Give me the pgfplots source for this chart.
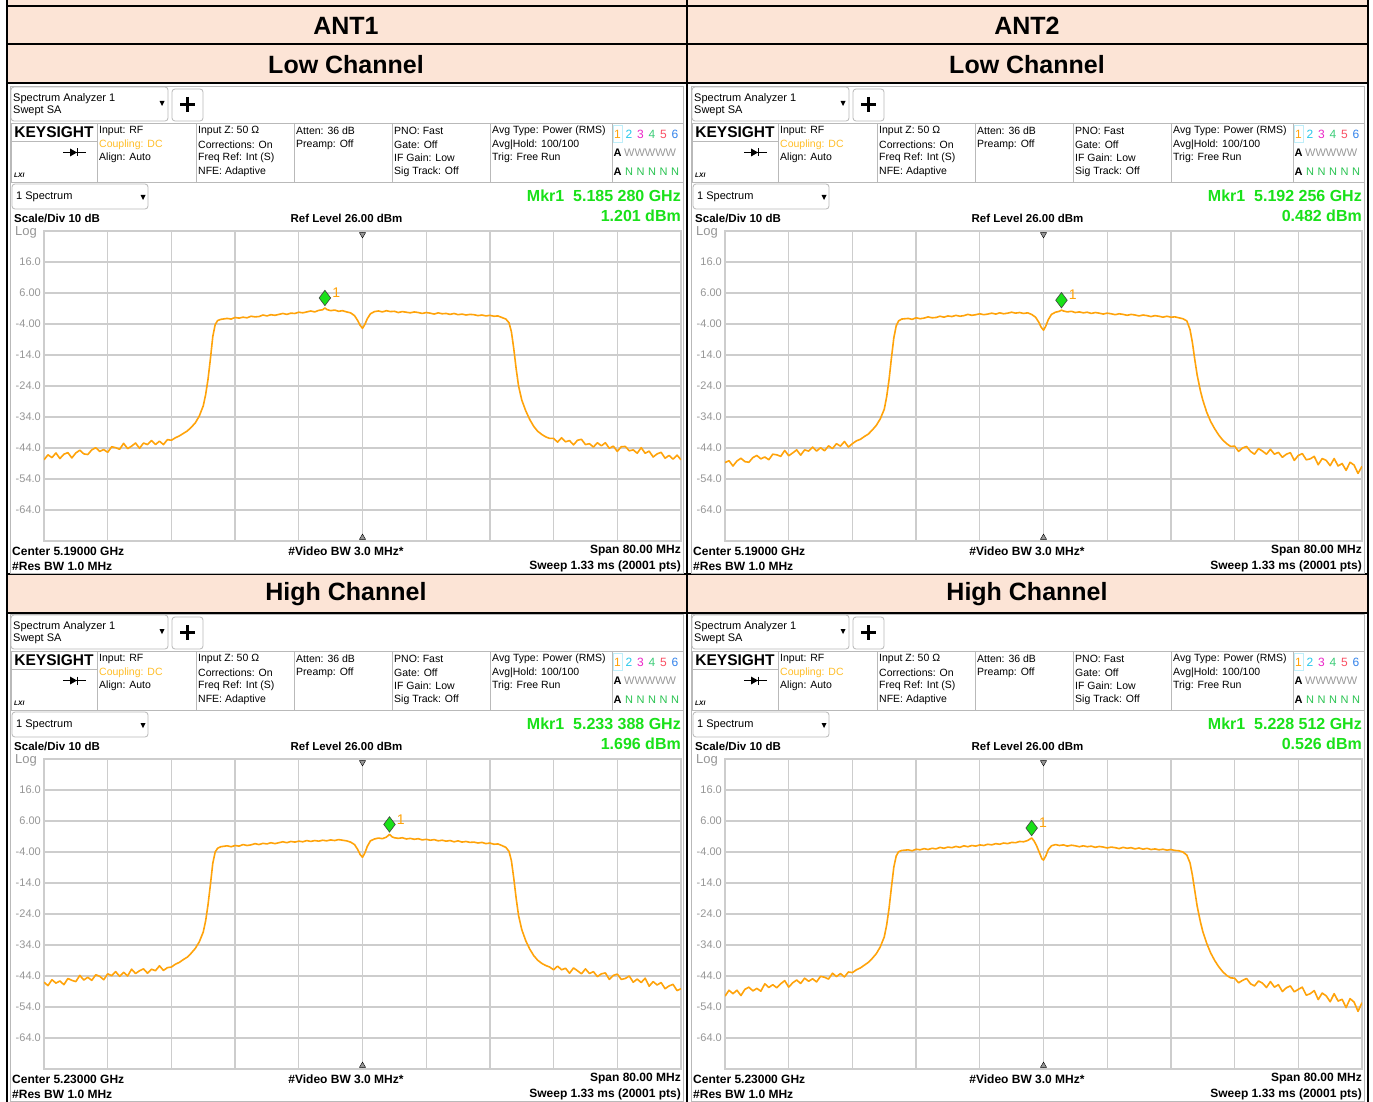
\documentclass[border=0pt]{standalone}
\usepackage{fontspec}
\setmainfont{Liberation Sans}
\usepackage{pgfplots}
\usepackage{pgfplotstable}
\pgfplotsset{compat=1.18}
\definecolor{peach}{RGB}{252,228,214}
\definecolor{gridc}{RGB}{205,205,205}
\definecolor{framec}{RGB}{185,185,185}
\definecolor{tickc}{RGB}{150,150,150}
\definecolor{traceor}{RGB}{255,163,10}
\definecolor{mkrg}{RGB}{25,225,25}
\definecolor{coupl}{RGB}{255,190,40}
\definecolor{tr2}{RGB}{40,200,235}
\definecolor{tr3}{RGB}{235,40,200}
\definecolor{tr4}{RGB}{60,205,120}
\definecolor{tr5}{RGB}{250,80,100}
\definecolor{tr6}{RGB}{50,130,235}
\definecolor{ngreen}{RGB}{40,195,80}
\newcommand{\fs}[1]{\fontsize{#1}{#1}\selectfont}

\pgfplotstableread{
x y
-40 -47.8
-39.5 -46.2
-39 -47.1
-38.5 -45.6
-38 -47.4
-37.5 -46.0
-37 -45.5
-36.5 -47.2
-36 -45.6
-35.5 -44.7
-35 -45.9
-34.5 -46.1
-34 -44.6
-33.5 -43.9
-33 -45.1
-32.5 -44.5
-32 -45.4
-31.5 -43.6
-31 -43.9
-30.5 -44.4
-30 -42.5
-29.5 -44.2
-29 -43.4
-28.5 -42.4
-28 -44.1
-27.5 -42.4
-27 -42.9
-26.5 -41.6
-26 -42.9
-25.5 -41.8
-25 -42.9
-24.5 -41.3
-24 -41.5
-23.5 -40.7
-23 -40.1
-22.5 -39.3
-22 -38.5
-21.5 -37.3
-21 -35.9
-20.5 -33.7
-20 -30.4
-19.7 -26.8
-19.4 -21.8
-19.1 -15.2
-18.8 -8.0
-18.5 -4.2
-18.2 -2.9
-17.8 -2.5
-17.0 -2.2
-16.5 -2.4
-16.0 -1.9
-15.5 -2.1
-15.0 -1.8
-14.5 -2.0
-14.0 -1.5
-13.5 -1.7
-13.0 -1.6
-12.5 -1.1
-12.0 -1.4
-11.5 -1.0
-11.0 -1.2
-10.5 -0.9
-10.0 -0.6
-9.5 -0.9
-9.0 -0.5
-8.5 -0.6
-8.0 -0.2
-7.5 -0.4
-7.0 -0.1
-6.5 0.2
-6.0 -0.1
-5.5 0.4
-5.0 0.6
-4.72 1.2
-4.5 0.7
-4.0 0.3
-3.5 0.5
-3.0 0.1
-2.5 0.3
-2.0 -0.1
-1.5 -0.4
-1.0 -1.3
-0.6 -2.9
-0.3 -4.4
0.0 -5.4
0.3 -4.1
0.6 -2.3
1.0 -0.7
1.5 0.0
2.0 0.2
2.5 -0.1
3.0 0.3
3.5 0.0
4.0 0.1
4.5 -0.3
5.0 0.0
5.5 -0.2
6.0 -0.4
6.5 -0.1
7.0 -0.3
7.5 -0.6
8.0 -0.3
8.5 -0.5
9.0 -0.8
9.5 -0.4
10.0 -0.7
10.5 -0.6
11.0 -0.9
11.5 -0.6
12.0 -1.0
12.5 -0.8
13.0 -1.1
13.5 -0.9
14.0 -1.0
14.5 -1.3
15.0 -1.1
15.5 -1.4
16.0 -1.2
16.5 -1.5
17.0 -1.4
17.5 -1.9
18.0 -2.4
18.4 -3.6
18.7 -6.5
19.0 -12.0
19.3 -18.5
19.6 -24.0
20.0 -28.5
20.5 -32.0
21.0 -34.8
21.5 -37.0
22.0 -38.6
22.5 -39.6
23.0 -40.4
23.5 -40.9
24 -40.9
24.5 -42.1
25 -40.7
25.5 -42.0
26 -41.6
26.5 -43.0
27 -41.5
27.5 -41.2
28 -42.9
28.5 -42.6
29 -43.7
29.5 -42.3
30 -43.3
30.5 -42.3
31 -44.1
31.5 -43.4
32 -45.1
32.5 -43.6
33 -43.5
33.5 -44.9
34 -44.6
34.5 -45.7
35 -43.9
35.5 -45.7
36 -45.0
36.5 -46.9
37 -45.9
37.5 -45.4
38 -47.3
38.5 -46.4
39 -47.6
39.5 -46.3
40 -47.8
}\tA

\pgfplotstableread{
x y
-40 -48.7
-39.5 -48.1
-39 -49.8
-38.5 -48.2
-38 -47.3
-37.5 -48.4
-37 -48.6
-36.5 -47.1
-36 -46.4
-35.5 -47.5
-35 -46.9
-34.5 -47.8
-34 -46.0
-33.5 -46.2
-33 -46.7
-32.5 -44.8
-32 -46.5
-31.5 -45.6
-31 -44.6
-30.5 -46.3
-30 -44.6
-29.5 -45.0
-29 -43.7
-28.5 -45.0
-28 -43.9
-27.5 -44.9
-27 -43.3
-26.5 -44.2
-26 -42.6
-25.5 -43.4
-25 -41.9
-24.5 -43.7
-24 -42.6
-23.5 -41.7
-23 -41.2
-22.5 -40.3
-22 -39.5
-21.5 -38.2
-21 -36.7
-20.5 -34.6
-20 -31.5
-19.7 -27.5
-19.4 -22.0
-19.1 -15.0
-18.8 -8.5
-18.5 -4.6
-18.2 -3.0
-17.8 -2.4
-17.0 -2.2
-16.5 -2.5
-16.0 -2.0
-15.5 -2.3
-15.0 -2.1
-14.5 -1.7
-14.0 -2.0
-13.5 -1.9
-13.0 -1.5
-12.5 -1.8
-12.0 -1.4
-11.5 -1.6
-11.0 -1.2
-10.5 -1.5
-10.0 -1.3
-9.5 -0.9
-9.0 -1.2
-8.5 -1.0
-8.0 -0.7
-7.5 -1.0
-7.0 -0.8
-6.5 -0.5
-6.0 -0.8
-5.5 -0.4
-5.0 -0.7
-4.5 -0.5
-4.0 -0.2
-3.5 -0.5
-3.0 -0.3
-2.5 -0.6
-2.0 -0.4
-1.5 -0.9
-1.0 -1.8
-0.6 -3.4
-0.3 -5.0
0.0 -6.0
0.3 -4.6
0.6 -2.6
1.0 -0.9
1.5 -0.2
2.0 0.1
2.256 0.48
2.5 0.2
3.0 -0.1
3.5 0.1
4.0 -0.3
4.5 -0.1
5.0 -0.4
5.5 -0.2
6.0 -0.6
6.5 -0.3
7.0 -0.5
7.5 -0.8
8.0 -0.5
8.5 -0.7
9.0 -1.0
9.5 -0.7
10.0 -0.9
10.5 -1.2
11.0 -0.9
11.5 -1.1
12.0 -1.4
12.5 -1.1
13.0 -1.3
13.5 -1.6
14.0 -1.3
14.5 -1.5
15.0 -1.8
15.5 -1.5
16.0 -1.8
16.5 -1.7
17.0 -2.0
17.5 -2.3
18.0 -3.0
18.4 -5.8
18.7 -10.0
19.0 -15.5
19.3 -20.5
19.7 -25.5
20.0 -28.5
20.5 -32.5
21.0 -35.5
21.5 -37.8
22.0 -39.8
22.5 -41.4
23.0 -42.6
23.5 -43.5
24 -43.4
24.5 -45.1
25 -44.0
25.5 -43.5
26 -45.1
26.5 -46.0
27 -44.2
27.5 -45.0
28 -46.0
28.5 -44.4
29 -46.0
29.5 -45.4
30 -47.0
30.5 -46.0
31 -45.5
31.5 -48.0
32 -46.4
32.5 -45.8
33 -47.8
33.5 -47.5
34 -46.7
34.5 -49.4
35 -47.4
35.5 -48.0
36 -49.7
36.5 -47.4
37 -49.8
37.5 -49.0
38 -51.2
38.5 -48.6
39 -49.5
39.5 -52.2
40 -49.9
}\tB

\pgfplotstableread{
x y
-40 -46.0
-39.5 -47.1
-39 -45.2
-38.5 -46.3
-38 -45.6
-37.5 -46.8
-37 -44.8
-36.5 -45.4
-36 -45.8
-35.5 -43.8
-35 -45.3
-34.5 -44.4
-34 -45.4
-33.5 -43.6
-33 -44.1
-32.5 -45.2
-32 -43.3
-31.5 -43.9
-31 -42.6
-30.5 -44.1
-30 -42.8
-29.5 -44.0
-29 -41.8
-28.5 -43.2
-28 -42.3
-27.5 -41.7
-27 -43.1
-26.5 -41.8
-26 -42.3
-25.5 -40.7
-25 -42.2
-24.5 -41.3
-24 -41.1
-23.5 -40.2
-23 -39.6
-22.5 -38.7
-22 -37.9
-21.5 -36.6
-21 -35.1
-20.5 -33.0
-20 -29.8
-19.7 -26.2
-19.4 -21.0
-19.1 -14.5
-18.8 -7.6
-18.5 -4.0
-18.2 -2.8
-17.8 -2.3
-17.0 -2.0
-16.5 -2.3
-16.0 -1.9
-15.5 -2.1
-15.0 -1.6
-14.5 -1.9
-14.0 -1.7
-13.5 -1.3
-13.0 -1.6
-12.5 -1.2
-12.0 -1.4
-11.5 -1.0
-11.0 -1.3
-10.5 -1.0
-10.0 -0.7
-9.5 -1.0
-9.0 -0.6
-8.5 -0.8
-8.0 -0.5
-7.5 -0.7
-7.0 -0.3
-6.5 -0.6
-6.0 -0.3
-5.5 -0.5
-5.0 -0.2
-4.5 -0.4
-4.0 -0.1
-3.5 -0.3
-3.0 0.0
-2.5 -0.2
-2.0 -0.4
-1.5 -0.8
-1.0 -1.6
-0.6 -3.2
-0.3 -4.8
0.0 -5.7
0.3 -4.3
0.6 -2.2
1.0 -0.4
1.5 0.2
2.0 0.5
2.5 0.3
3.0 0.8
3.388 1.7
3.7 0.9
4.0 0.6
4.5 0.4
5.0 0.6
5.5 0.2
6.0 0.4
6.5 0.1
7.0 0.3
7.5 -0.1
8.0 0.1
8.5 -0.2
9.0 0.0
9.5 -0.4
10.0 -0.2
10.5 -0.5
11.0 -0.3
11.5 -0.7
12.0 -0.4
12.5 -0.8
13.0 -0.6
13.5 -0.9
14.0 -0.8
14.5 -1.1
15.0 -0.9
15.5 -1.3
16.0 -1.1
16.5 -1.5
17.0 -1.4
17.5 -1.9
18.0 -2.5
18.4 -3.8
18.7 -6.8
19.0 -12.5
19.3 -19.0
19.6 -24.5
20.0 -29.0
20.5 -32.6
21.0 -35.3
21.5 -37.4
22.0 -38.9
22.5 -39.9
23.0 -40.6
23.5 -41.1
24 -42.0
24.5 -40.8
25 -42.0
25.5 -41.5
26 -43.1
26.5 -41.4
27 -42.3
27.5 -43.3
28 -41.7
28.5 -43.2
29 -42.6
29.5 -44.2
30 -43.3
30.5 -43.0
31 -45.1
31.5 -43.8
32 -43.4
32.5 -45.1
33 -44.8
33.5 -44.0
34 -46.0
34.5 -45.0
35 -46.1
35.5 -44.7
36 -47.3
36.5 -45.8
37 -46.9
37.5 -46.1
38 -48.1
38.5 -47.2
39 -46.7
39.5 -48.7
40 -48.1
}\tC

\pgfplotstableread{
x y
-40 -50.5
-39.5 -48.6
-39 -49.7
-38.5 -48.6
-38 -50.3
-37.5 -48.3
-37 -47.6
-36.5 -48.8
-36 -48.0
-35.5 -48.9
-35 -46.5
-34.5 -47.7
-34 -46.8
-33.5 -47.8
-33 -46.5
-32.5 -45.5
-32 -47.6
-31.5 -46.2
-31 -45.3
-30.5 -46.4
-30 -44.7
-29.5 -45.7
-29 -44.9
-28.5 -45.9
-28 -44.1
-27.5 -44.4
-27 -45.0
-26.5 -43.1
-26 -44.2
-25.5 -43.2
-25 -44.3
-24.5 -42.7
-24 -42.9
-23.5 -42.0
-23 -41.4
-22.5 -40.5
-22 -39.6
-21.5 -38.3
-21 -36.8
-20.5 -34.6
-20 -31.4
-19.7 -27.6
-19.4 -22.2
-19.1 -15.4
-18.8 -8.9
-18.5 -5.3
-18.2 -3.9
-17.8 -3.5
-17.0 -3.3
-16.5 -3.6
-16.0 -3.1
-15.5 -3.3
-15.0 -2.9
-14.5 -3.2
-14.0 -2.8
-13.5 -3.0
-13.0 -2.5
-12.5 -2.8
-12.0 -2.4
-11.5 -2.6
-11.0 -2.2
-10.5 -2.5
-10.0 -2.0
-9.5 -2.3
-9.0 -1.9
-8.5 -2.1
-8.0 -1.7
-7.5 -1.9
-7.0 -1.5
-6.5 -1.7
-6.0 -1.3
-5.5 -1.5
-5.0 -1.1
-4.5 -1.3
-4.0 -0.9
-3.5 -1.0
-3.0 -0.6
-2.5 -0.7
-2.0 -0.3
-1.488 0.53
-1.2 -0.4
-0.9 -1.8
-0.5 -4.3
-0.2 -6.2
0.0 -6.6
0.3 -5.2
0.6 -3.2
1.0 -2.0
1.5 -1.6
2.0 -1.9
2.5 -1.7
3.0 -2.1
3.5 -1.8
4.0 -2.0
4.5 -2.3
5.0 -2.0
5.5 -2.3
6.0 -2.1
6.5 -2.5
7.0 -2.2
7.5 -2.4
8.0 -2.7
8.5 -2.4
9.0 -2.6
9.5 -2.9
10.0 -2.5
10.5 -2.8
11.0 -2.6
11.5 -3.0
12.0 -2.7
12.5 -3.1
13.0 -2.8
13.5 -3.2
14.0 -3.0
14.5 -3.3
15.0 -3.1
15.5 -3.4
16.0 -3.2
16.5 -3.5
17.0 -3.6
17.5 -4.0
18.0 -5.0
18.4 -7.5
18.7 -11.5
19.0 -16.5
19.3 -21.5
19.7 -26.5
20.0 -29.6
20.5 -33.5
21.0 -36.6
21.5 -39.0
22.0 -41.0
22.5 -42.6
23.0 -43.8
23.5 -44.6
24 -44.7
24.5 -46.2
25 -45.4
25.5 -44.8
26 -46.5
26.5 -47.2
27 -45.6
27.5 -46.3
28 -47.7
28.5 -45.8
29 -47.6
29.5 -46.8
30 -49.0
30.5 -47.8
31 -47.2
31.5 -49.1
32 -48.3
32.5 -47.6
33 -50.2
33.5 -49.7
34 -48.7
34.5 -51.6
35 -49.5
35.5 -50.4
36 -52.3
36.5 -49.7
37 -52.1
37.5 -51.5
38 -54.2
38.5 -51.3
39 -52.4
39.5 -55.4
40 -52.6
}\tD

\pgfplotsset{specax/.style={
  anchor=north west, width=637pt, height=310pt, scale only axis,
  xmin=-40, xmax=40, ymin=-74, ymax=26,
  xtick={-32,-24,...,32}, ytick={-64,-54,...,16},
  xticklabels={},
  yticklabels={-64.0,-54.0,-44.0,-34.0,-24.0,-14.0,-4.00,6.00,16.0},
  grid=major, major grid style={draw=gridc, line width=1.3pt},
  axis line style={draw=gridc, line width=1.3pt},
  tick style={draw=none},
  yticklabel style={font=\fs{11}, text=tickc, inner sep=0pt, xshift=-3pt},
}}

\newcommand{\chrome}[5]{%
\begin{scope}[x=1pt,y=-1pt,xshift=#1pt,yshift=-#2pt]
\draw[framec,line width=0.8pt] (10,86) rectangle (683,573);
\draw[framec,line width=0.8pt,rounded corners=3pt] (11,87) rectangle (168,121);
\node[anchor=west,inner sep=0,font=\fs{11}] at (13,98.5) {Spectrum Analyzer 1};
\node[anchor=west,inner sep=0,font=\fs{11}] at (13,111) {Swept SA};
\fill (159.5,101) -- (164.5,101) -- (162,106) -- cycle;
\draw[framec,line width=0.8pt,rounded corners=3pt] (172,89) rectangle (203,121);
\draw[line width=2.2pt] (180,104.5)--(195,104.5) (187.5,97)--(187.5,112);
\draw[framec,line width=0.8pt] (11,123)--(683,123) (11,182)--(683,182) (11,141)--(97,141);
\foreach \xx in {11,97,196,294,392,490,612} {\draw[framec,line width=0.8pt] (\xx,123)--(\xx,182);}
\node[font=\bfseries\fs{15.5},inner sep=0] at (54,132.5) {KEYSIGHT};
\draw[line width=1.2pt] (63,152.5)--(86,152.5);
\fill (70,148.5)--(70,156.5)--(77,152.5)--cycle;
\draw[line width=1.5pt] (77.5,148.5)--(77.5,156.5);
\node[anchor=west,inner sep=0,font=\bfseries\itshape\fs{6.5}] at (14,175) {LXI};
\node[anchor=west,inner sep=0,font=\fs{10.5}] at (99,131) {Input: RF};
\node[anchor=west,inner sep=0,font=\fs{10.5},text=coupl] at (99,144.5) {Coupling: DC};
\node[anchor=west,inner sep=0,font=\fs{10.5}] at (99,158) {Align: Auto};
\node[anchor=west,inner sep=0,font=\fs{10.5}] at (198,131) {Input Z: 50 Ω};
\node[anchor=west,inner sep=0,font=\fs{10.5}] at (198,144.5) {Corrections: On};
\node[anchor=west,inner sep=0,font=\fs{10.5}] at (198,158) {Freq Ref: Int (S)};
\node[anchor=west,inner sep=0,font=\fs{10.5}] at (198,171.5) {NFE: Adaptive};
\node[anchor=west,inner sep=0,font=\fs{10.5}] at (296,131) {Atten: 36 dB};
\node[anchor=west,inner sep=0,font=\fs{10.5}] at (296,144.5) {Preamp: Off};
\node[anchor=west,inner sep=0,font=\fs{10.5}] at (394,131) {PNO: Fast};
\node[anchor=west,inner sep=0,font=\fs{10.5}] at (394,144.5) {Gate: Off};
\node[anchor=west,inner sep=0,font=\fs{10.5}] at (394,158) {IF Gain: Low};
\node[anchor=west,inner sep=0,font=\fs{10.5}] at (394,171.5) {Sig Track: Off};
\node[anchor=west,inner sep=0,font=\fs{10.5}] at (492,131) {Avg Type: Power (RMS)};
\node[anchor=west,inner sep=0,font=\fs{10.5}] at (492,144.5) {Avg|Hold: 100/100};
\node[anchor=west,inner sep=0,font=\fs{10.5}] at (492,158) {Trig: Free Run};
\draw[tr2!30,line width=0.8pt] (613,125) rectangle (622.5,142);
\node[font=\fs{12},text=traceor,inner sep=0] at (617.5,134) {1};
\node[font=\fs{12},text=tr2,inner sep=0] at (629,134) {2};
\node[font=\fs{12},text=tr3,inner sep=0] at (640.5,134) {3};
\node[font=\fs{12},text=tr4,inner sep=0] at (652,134) {4};
\node[font=\fs{12},text=tr5,inner sep=0] at (663.5,134) {5};
\node[font=\fs{12},text=tr6,inner sep=0] at (675,134) {6};
\node[font=\bfseries\fs{11},inner sep=0] at (617.5,152.5) {A};
\node[anchor=west,font=\fs{11},text=black!40,inner sep=0] at (624,152.5) {WWWWW};
\node[font=\bfseries\fs{11},inner sep=0] at (617.5,171.5) {A};
\foreach \xx in {629,640.5,652,663.5,675} {\node[font=\fs{11},text=ngreen,inner sep=0] at (\xx,171.5) {N};}
\draw[framec,line width=0.8pt,rounded corners=3pt] (12,184) rectangle (148,209);
\node[anchor=west,inner sep=0,font=\fs{11}] at (16,197) {1 Spectrum};
\fill (140.5,195) -- (145.5,195) -- (143,200) -- cycle;
\node[anchor=east,inner sep=0,font=\bfseries\fs{16},text=mkrg] at (681,195.5) {Mkr1\ \ #3};
\node[anchor=east,inner sep=0,font=\bfseries\fs{16},text=mkrg] at (681,216) {#4};
\node[anchor=west,inner sep=0,font=\bfseries\fs{11.5}] at (14,218.5) {Scale/Div 10 dB};
\node[inner sep=0,font=\bfseries\fs{11.5}] at (346.5,218.5) {Ref Level 26.00 dBm};
\node[anchor=west,inner sep=0,font=\fs{13},text=tickc] at (15,232) {Log};
\node[anchor=west,inner sep=0,font=\bfseries\fs{12}] at (12,551) {Center #5};
\node[anchor=west,inner sep=0,font=\bfseries\fs{12}] at (12,566) {\#Res BW 1.0 MHz};
\node[inner sep=0,font=\bfseries\fs{12}] at (346,551) {\#Video BW 3.0 MHz*};
\node[anchor=east,inner sep=0,font=\bfseries\fs{12}] at (681,551) {Span 80.00 MHz};
\node[anchor=east,inner sep=0,font=\bfseries\fs{12}] at (681,566) {Sweep 1.33 ms (20001 pts)};
\end{scope}}

\newcommand{\spec}[7]{%
\begin{axis}[specax, at={(#1pt,-#2pt)}]
\addplot[traceor, line width=1.6pt, no marks, line join=round] table[x index=0,y index=1] {#3};
\addplot[only marks, mark=triangle*, mark size=3.5pt, mark options={fill=tickc, draw=none, rotate=180}] coordinates {(0,24.9)};
\addplot[only marks, mark=triangle*, mark size=3.5pt, mark options={fill=tickc, draw=none}] coordinates {(0,-72.9)};
\addplot[only marks, mark=diamond*, mark size=7.7pt, mark options={fill=mkrg, draw=black!75, line width=0.6pt}] coordinates {(#4,#5)};
\node[anchor=west, inner sep=0, text=traceor, font=\fs{14}] at (axis cs:#6,#7) {1};
\end{axis}}

\begin{document}
\begin{tikzpicture}
\begin{scope}[x=1pt,y=-1pt]
\fill[white] (0,0) rectangle (1373,1102);
\fill[peach] (7,0) rectangle (1368,83);
\fill[peach] (7,574) rectangle (1368,612);
\draw[line width=2pt] (6,6)--(1368,6) (6,44.5)--(1368,44.5) (6,83.5)--(1368,83.5) (6,574)--(1368,574) (6,612.5)--(1368,612.5);
\draw[line width=2pt] (7,0)--(7,1102) (686.5,0)--(686.5,1102) (1367.5,0)--(1367.5,1102);
\node[font=\bfseries\fs{25},inner sep=0] at (346,26) {ANT1};
\node[font=\bfseries\fs{25},inner sep=0] at (1027,26) {ANT2};
\node[font=\bfseries\fs{25},inner sep=0] at (346,65) {Low Channel};
\node[font=\bfseries\fs{25},inner sep=0] at (1027,65) {Low Channel};
\node[font=\bfseries\fs{25},inner sep=0] at (346,594) {High Channel};
\node[font=\bfseries\fs{25},inner sep=0] at (1027,594) {High Channel};
\end{scope}
\chrome{0}{0}{5.185 280 GHz}{1.201 dBm}{5.19000 GHz}
\chrome{681}{0}{5.192 256 GHz}{0.482 dBm}{5.19000 GHz}
\chrome{0}{528}{5.233 388 GHz}{1.696 dBm}{5.23000 GHz}
\chrome{681}{528}{5.228 512 GHz}{0.526 dBm}{5.23000 GHz}
\spec{44}{231}{\tA}{-4.72}{4.4}{-3.8}{6.0}
\spec{725}{231}{\tB}{2.256}{3.68}{3.15}{5.3}
\spec{44}{759}{\tC}{3.388}{4.9}{4.29}{6.5}
\spec{725}{759}{\tD}{-1.488}{3.73}{-0.59}{5.3}
\pgfresetboundingbox
\path[use as bounding box] (0pt,0pt) rectangle (1373pt,-1102pt);
\end{tikzpicture}
\end{document}
